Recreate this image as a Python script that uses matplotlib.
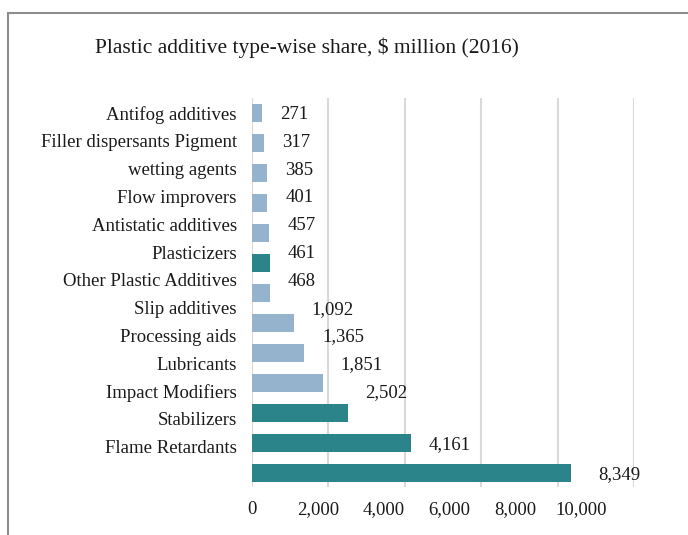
import matplotlib
matplotlib.use("Agg")
import matplotlib.pyplot as plt
from matplotlib.patches import Rectangle

# ---- data ----
categories = ["Antifog additives", "Filler dispersants Pigment", "wetting agents",
              "Flow improvers", "Antistatic additives", "Plasticizers",
              "Other Plastic Additives", "Slip additives", "Processing aids",
              "Lubricants", "Impact Modifiers", "Stabilizers", "Flame Retardants"]
values = [271, 317, 385, 401, 457, 461, 468, 1092, 1365, 1851, 2502, 4161, 8349]
highlight = [False, False, False, False, False, True, False, False, False, False, True, True, True]
tick_values = [0, 2000, 4000, 6000, 8000, 10000]
tick_labels = ["0", "2,000", "4,000", "6,000", "8,000", "10,000"]
title = "Plastic additive type-wise share, $ million (2016)"

# ---- style ----
LIGHT = "#95B3CD"
TEAL = "#2B8489"
FONT = "Liberation Serif"
FS = 13.5
plt.rcParams["font.family"] = [FONT, "DejaVu Serif"]

fig = plt.figure(figsize=(6.88, 5.35), dpi=100)
# outer frame
fig.patches.append(Rectangle((8 / 688, -0.05), 1.2, 1 - 13 / 535 + 0.05,
                             transform=fig.transFigure, fill=False,
                             edgecolor="#8C8C8C", linewidth=1.5))

ax = fig.add_axes([252 / 688, 1 - 487 / 535, (634 - 252) / 688, (487 - 98) / 535])
n = len(values)
rows = list(range(n))
colors = [TEAL if h else LIGHT for h in highlight]
ax.barh(rows, values, height=0.6, color=colors, zorder=3)

ax.set_xlim(0, 10000)
ax.set_ylim(n - 1 + 0.47, -0.5)
ax.set_xticks(tick_values)
ax.set_xticklabels([])
ax.tick_params(axis="both", length=0)
ax.grid(axis="x", color="#D9D9D9", linewidth=1.5, zorder=0)
for s in ax.spines.values():
    s.set_visible(False)

# category labels (compressed spacing as in the reference)
label_step = 0.927
ax.set_yticks([i * label_step for i in rows])
ax.set_yticklabels(categories, fontsize=FS, color="#1a1a1a")
ax.tick_params(axis="y", pad=11)

# value labels
for i, v in enumerate(values):
    y = i * label_step if i <= 10 else i
    off = 470 if i < n - 1 else 720
    ax.text(v + off, y + 0.05, f"{v:,}", ha="left", va="center", fontsize=FS,
            color="#1a1a1a", clip_on=False)

# x tick labels (compressed spacing as in the reference)
tick_step = 0.862
for tv, tl in zip(tick_values, tick_labels):
    ax.annotate(tl, xy=(tv * tick_step, 0), xycoords=("data", "axes fraction"),
                xytext=(0, -16), textcoords="offset points", ha="center",
                va="center", fontsize=FS, color="#1a1a1a", annotation_clip=False)

fig.text(307 / 688, 1 - 48 / 535, title, ha="center", va="center",
         fontsize=15.5, color="#1a1a1a")

fig.savefig("out.png", dpi=100)
